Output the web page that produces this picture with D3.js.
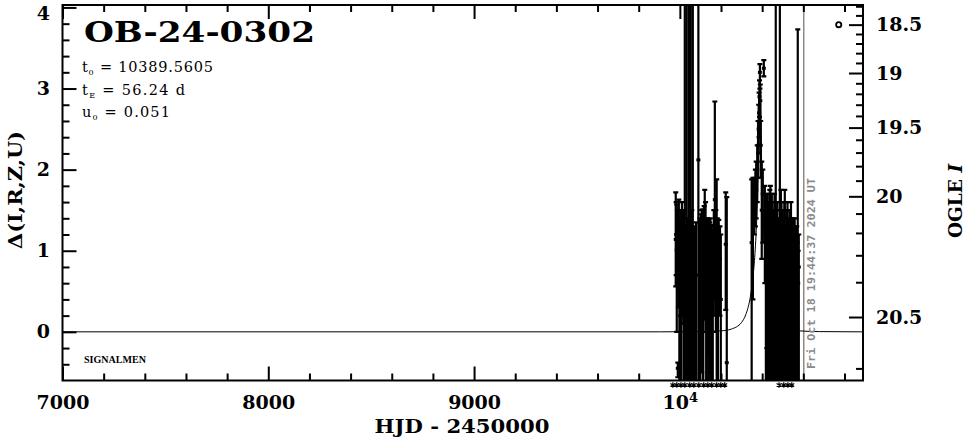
<!DOCTYPE html>
<html><head><meta charset="utf-8">
<script src="https://cdn.jsdelivr.net/npm/d3@7"></script>
<style>body{margin:0;background:#fff}svg{display:block}</style>
</head><body>
<svg id="c" width="966" height="438"></svg>
<script>
// ---------------- data ----------------
const eventName = "OB-24-0302";
const paramSym = ["t", "t", "u"];
const paramSub = ["0", "E", "0"];
const paramVal = ["10389.5605", "56.24 d", "0.051"];
const dateStamp = "Fri Oct 18 19:44:37 2024 UT";
const dateStampHJD = 10602;
const xMajorTicks = [7000, 8000, 9000, 10000];
const xMajorLabels = ["7000", "8000", "9000", "10^4"];
const yMajorTicks = [0, 1, 2, 3, 4];
const yMajorLabels = ["0", "1", "2", "3", "4"];
const magMajorTicks = [18.5, 19, 19.5, 20, 20.5];
const magMajorLabels = ["18.5", "19", "19.5", "20", "20.5"];
const magMinorTicks = [18.3, 18.4, 18.6, 18.7, 18.8, 18.9, 19.1, 19.2, 19.3, 19.4, 19.6, 19.7, 19.8, 19.9, 20.1, 20.2, 20.3, 20.4, 20.6];
const magBaseline = 20.534;   // baseline OGLE I
const magBlend = 20.741;      // blend flux, OGLE I

// observations: time, delta, lower end, upper end of error bar
const obsT = [9980, 9985, 9988, 9990, 9995, 10000, 10005, 10010, 10014, 10024, 10033, 10043, 10053, 10063, 10072, 10090, 10102, 10111, 10118, 10121, 10131, 10135, 10140, 10145, 10150, 10160, 10165, 10170, 10179, 10185, 10189, 10199, 10223, 10228,
  9982, 9993, 9998, 10003, 10008, 10017, 10020, 10028, 10038, 10048, 10058, 10068, 10078, 10098, 10106, 10114, 10125, 10128, 10138, 10148, 10155, 10175, 10182, 10195,
  10349, 10355, 10362, 10367, 10371, 10376, 10380, 10383, 10385, 10387, 10389, 10391, 10393, 10398, 10403, 10408, 10413, 10418, 10423, 10427, 10432, 10437, 10442, 10447, 10452, 10457, 10466, 10471, 10476, 10486, 10491, 10496, 10500, 10505, 10510, 10515, 10520, 10525, 10530, 10535, 10540, 10545, 10550, 10555, 10560, 10565, 10573, 10578,
  10420, 10430, 10435, 10440, 10445, 10450, 10455, 10460, 10463, 10468, 10474, 10479, 10482, 10489, 10494, 10498, 10503, 10508, 10513, 10518, 10523, 10528, 10533, 10538, 10543, 10548, 10553, 10558, 10563, 10568, 10570, 10575];
const obsDelta = [1.14, 1.01, 1.26, -0.45, 1.14, 0.95, 1.08, 1.20, 0.95, 1.01, 0.77, 1.26, 1.01, 1.14, 0.40, 2.12, 0.89, 0.77, 1.14, 1.01, 0.58, 1.01, 0.77, 0.89, 0.77, 1.01, 1.14, 1.63, 0.77, 0.89, 1.01, 0.40, 1.08, -0.38,
  1.2, 1.0, 0.9, 1.1, 0.8, 1.0, 0.9, 1.1, 0.9, 1.0, 0.8, 1.1, 0.7, 0.9, 1.0, 0.8, 1.1, 0.9, 0.8, 1.0, 0.9, 1.0, 0.8, 0.9,
  1.10, 1.40, 1.60, 1.70, 1.75, 2.00, 2.30, 2.50, 2.70, 2.90, 3.20, 2.85, 2.30, 1.50, 1.70, 3.25, 1.30, 1.10, 0.90, 1.00, 0.70, 1.20, 0.80, 1.00, 0.60, 1.10, 1.00, 0.80, 0.60, 1.20, 0.90, 0.70, 1.00, 0.50, 1.10, 0.70, 0.80, 1.00, 0.60, 0.90, 0.80, 0.50, 1.00, 0.70, 1.10, 0.60, 1.00, 0.80,
  0.8, 1.0, 0.9, 1.1, 0.7, 1.0, 0.8, 0.9, 0.7, 1.0, 0.8, 1.1, 0.7, 0.9, 1.0, 0.6, 0.9, 0.8, 1.0, 0.6, 0.9, 0.7, 1.0, 0.8, 0.7, 0.9, 0.6, 0.8, 0.9, 0.7, 0.8, 0.6];
const obsLow = [0.56, 0.00, 0.60, -0.56, 0.52, -1.5, 0.52, 0.40, 0.20, -2, -2, -2, -2, -2, -1.5, -1.5, -0.34, -1.5, 0.30, 0.15, -1.5, 0.00, -1.5, -0.5, -0.16, -1.5, 0.20, 0.40, -1.5, -1.5, 0.40, -1.5, 0.27, -1.5,
  0.7, 0.3, -1.5, 0.2, -1.5, 0.1, -1.5, -1.5, -1.5, -2, -1.5, -1.5, -1.5, -1.5, -0.5, -1.5, 0.0, -1.5, -0.3, -1.5, -1.5, 0.0, -1.5, 0.2,
  -1.5, 0.40, 1.20, 1.30, 1.40, 1.60, 1.90, 2.20, 2.40, 2.65, 3.00, 2.60, 1.90, 0.90, 1.10, 3.15, 0.60, -1.5, -0.2, -1.5, -1.5, 0.30, -1.5, -0.3, -1.5, 0.00, -2, -1.5, -1.5, -2, -1.5, -1.5, -0.5, -1.5, 0.20, -1.5, -1.5, 0.10, -1.5, -1.5, -0.4, -1.5, 0.20, -1.5, 0.40, -1.5, -2, -1.5,
  -1.5, -1.5, -0.5, -1.5, -1.5, 0.0, -1.5, -1.5, -0.2, -1.5, -1.5, 0.1, -1.5, -1.5, -0.4, -1.5, -1.5, -1.5, -0.2, -1.5, -1.5, -1.5, -0.3, -1.5, -1.5, -1.5, -1.5, -1.5, -0.1, -1.5, -1.5, -1.5];
const obsHigh = [1.72, 1.57, 1.50, -0.38, 1.63, 1.20, 1.32, 1.60, 1.45, 5, 5, 5, 5, 5, 1.29, 5, 1.45, 1.51, 1.55, 1.75, 1.36, 1.40, 1.38, 1.35, 1.32, 1.26, 1.50, 2.84, 1.88, 1.30, 1.38, 1.20, 1.72, 1.66,
  1.6, 1.4, 1.35, 1.5, 1.3, 1.4, 1.5, 1.3, 1.4, 5, 1.5, 1.3, 1.35, 1.4, 1.5, 1.45, 1.6, 1.4, 1.3, 1.4, 1.3, 1.5, 1.4, 1.3,
  1.88, 1.90, 1.90, 2.00, 2.10, 2.30, 2.60, 2.80, 2.95, 3.10, 3.30, 3.05, 2.60, 2.10, 2.00, 3.35, 1.80, 1.70, 1.50, 1.70, 1.40, 1.75, 1.40, 1.70, 1.30, 1.50, 5, 1.40, 1.30, 5, 1.75, 1.20, 1.50, 1.10, 1.75, 1.30, 1.50, 1.40, 1.20, 1.30, 1.60, 1.10, 1.40, 1.20, 1.30, 1.10, 3.73, 1.20,
  1.5, 1.6, 1.3, 1.8, 1.2, 1.6, 1.4, 1.7, 1.2, 1.5, 1.6, 1.4, 1.3, 1.5, 1.6, 1.2, 1.4, 1.6, 1.3, 1.2, 1.6, 1.3, 1.5, 1.2, 1.4, 1.3, 1.1, 1.4, 1.2, 1.3, 1.1, 1.0];
// epochs whose value falls below the plotted range
const offScaleT = [9966, 9985, 10005, 10024, 10048, 10068, 10092, 10116, 10136, 10155, 10179, 10199, 10218, 10482, 10505, 10525, 10544];
// model curve
const modelT = [7000, 9900, 10100, 10200, 10250, 10300, 10320, 10340, 10350, 10360, 10365, 10370, 10375, 10377.56, 10380, 10382.56, 10384, 10385.56, 10387, 10388.56, 10389.56, 10390.56, 10392.12, 10393.56, 10395.12, 10396.56, 10399.12, 10401.56, 10404.12, 10409.12, 10414.12, 10419.12, 10429.12, 10439.12, 10459.12, 10479.12, 10529.12, 10579.12, 10679.12, 10879.12, 10890];
const modelDelta = [0, 0, 0.003, 0.012, 0.034, 0.117, 0.210, 0.396, 0.557, 0.798, 0.967, 1.184, 1.474, 1.666, 1.890, 2.186, 2.389, 2.648, 2.916, 3.170, 3.233, 3.170, 2.916, 2.648, 2.389, 2.186, 1.890, 1.666, 1.474, 1.184, 0.967, 0.798, 0.557, 0.396, 0.210, 0.117, 0.034, 0.012, 0.003, 0, 0];
const markerT = 10772, markerMag = 18.5;

// ---------------- drawing ----------------
const svg = d3.select("#c");
const X0 = 62.5, X1 = 863, Y0 = 5, Y1 = 380.5;
const x = d3.scaleLinear().domain([7000, 10890]).range([X0, X1]);
const y = d3.scaleLinear().domain([-0.6, 4.03]).range([Y1, Y0]);
const FONT = "'DejaVu Serif', serif";

function fluxOf(m) { return Math.pow(10, -0.4 * m); }
function deltaOfMag(m) {
  return 2.5 * Math.log10((fluxOf(m) - fluxOf(magBlend)) / (fluxOf(magBaseline) - fluxOf(magBlend)));
}
function magScale(m) { return y(deltaOfMag(m)); }
magScale.copy = () => magScale;
magScale.range = () => y.range();

svg.append("defs").append("clipPath").attr("id", "plot")
  .append("rect").attr("x", X0).attr("y", Y0).attr("width", X1 - X0).attr("height", Y1 - Y0);

const plot = svg.append("g").attr("clip-path", "url(#plot)");

// date marker
plot.append("line").attr("x1", x(dateStampHJD)).attr("x2", x(dateStampHJD))
  .attr("y1", Y0).attr("y2", Y1).attr("stroke", "#8a8a8a").attr("stroke-width", 1.5);

// model
plot.append("path")
  .datum(modelT.map((t, i) => [t, modelDelta[i]]))
  .attr("fill", "none").attr("stroke", "#000").attr("stroke-width", 1)
  .attr("d", d3.line().x(d => x(d[0])).y(d => y(d[1])).curve(d3.curveMonotoneX));

// observations
const obs = obsT.map((t, i) => ({ t, d: obsDelta[i], lo: obsLow[i], hi: obsHigh[i] }));
const g = plot.append("g").attr("stroke", "#000").attr("stroke-width", 2.2);
g.selectAll("line.bar").data(obs).join("line").attr("class", "bar")
  .attr("x1", d => x(d.t)).attr("x2", d => x(d.t))
  .attr("y1", d => y(d.lo)).attr("y2", d => y(d.hi));
g.selectAll("line.capH").data(obs).join("line").attr("class", "capH")
  .attr("x1", d => x(d.t) - 2.5).attr("x2", d => x(d.t) + 2.5)
  .attr("y1", d => y(d.hi)).attr("y2", d => y(d.hi));
g.selectAll("line.capL").data(obs).join("line").attr("class", "capL")
  .attr("x1", d => x(d.t) - 2.5).attr("x2", d => x(d.t) + 2.5)
  .attr("y1", d => y(d.lo)).attr("y2", d => y(d.lo));
plot.selectAll("rect.pt").data(obs).join("rect").attr("class", "pt")
  .attr("x", d => x(d.t) - 2).attr("y", d => y(d.d) - 1.5)
  .attr("width", 4).attr("height", 3).attr("fill", "#000");

// marker circle
svg.append("circle").attr("cx", x(markerT)).attr("cy", magScale(markerMag)).attr("r", 2.6)
  .attr("fill", "none").attr("stroke", "#000").attr("stroke-width", 1.8);

// off-scale stars
svg.selectAll("path.star").data(offScaleT).join("path").attr("class", "star")
  .attr("transform", t => `translate(${x(t)},385)`)
  .attr("d", d3.symbol(d3.symbolAsterisk, 22))
  .attr("fill", "none").attr("stroke", "#000").attr("stroke-width", 1.2);

// frame
svg.append("rect").attr("x", X0).attr("y", Y0).attr("width", X1 - X0).attr("height", Y1 - Y0)
  .attr("fill", "none").attr("stroke", "#000").attr("stroke-width", 2);

function styleAxis(sel) {
  sel.select(".domain").remove();
  sel.selectAll(".tick line").attr("stroke", "#000").attr("stroke-width", 2);
  sel.selectAll("text").attr("font-family", FONT).attr("font-weight", "bold")
    .attr("font-size", 19).attr("fill", "#000");
}
const xMinor = d3.range(7200, 10890, 200).filter(v => v % 1000 !== 0);
const yMinor = d3.range(-0.4, 4.01, 0.2).map(v => +v.toFixed(1)).filter(v => Math.abs(v - Math.round(v)) > 0.01);

// bottom
const bottom = svg.append("g").attr("transform", `translate(0,${Y1})`)
  .call(d3.axisBottom(x).tickValues(xMajorTicks).tickSize(-14).tickPadding(15.5)
    .tickFormat((v, i) => xMajorLabels[i])).call(styleAxis);
bottom.selectAll(".tick text").each(function (v, i) {
  const lab = xMajorLabels[i];
  if (lab.includes("^")) {
    const [b, e] = lab.split("^");
    const t = d3.select(this).text("");
    t.append("tspan").text(b);
    t.append("tspan").attr("font-size", 13).attr("dy", -7).text(e);
  }
});
svg.append("g").attr("transform", `translate(0,${Y1})`)
  .call(d3.axisBottom(x).tickValues(xMinor).tickSize(-7).tickFormat("")).call(styleAxis);
// top
svg.append("g").attr("transform", `translate(0,${Y0})`)
  .call(d3.axisTop(x).tickValues(xMajorTicks).tickSize(-14).tickFormat("")).call(styleAxis);
svg.append("g").attr("transform", `translate(0,${Y0})`)
  .call(d3.axisTop(x).tickValues(xMinor).tickSize(-7).tickFormat("")).call(styleAxis);
// left
const left = svg.append("g").attr("transform", `translate(${X0},0)`)
  .call(d3.axisLeft(y).tickValues(yMajorTicks).tickSize(-14).tickPadding(12.5)
    .tickFormat((v, i) => yMajorLabels[i])).call(styleAxis);
// keep the topmost label inside the picture
left.selectAll(".tick text").filter(v => v === 4).attr("dy", "0.62em");
svg.append("g").attr("transform", `translate(${X0},0)`)
  .call(d3.axisLeft(y).tickValues(yMinor).tickSize(-7).tickFormat("")).call(styleAxis);
// right (OGLE I)
svg.append("g").attr("transform", `translate(${X1},0)`)
  .call(d3.axisRight(magScale).tickValues(magMajorTicks).tickSize(-14).tickPadding(13)
    .tickFormat((v, i) => magMajorLabels[i])).call(styleAxis);
svg.append("g").attr("transform", `translate(${X1},0)`)
  .call(d3.axisRight(magScale).tickValues(magMinorTicks).tickSize(-7).tickFormat("")).call(styleAxis);

// axis titles
svg.append("text").attr("x", 462).attr("y", 433).attr("text-anchor", "middle")
  .attr("font-family", FONT).attr("font-weight", "bold").attr("font-size", 18.5)
  .attr("textLength", 175).attr("lengthAdjust", "spacingAndGlyphs").text("HJD - 2450000");
svg.append("text").attr("transform", "translate(22,190) rotate(-90)").attr("text-anchor", "middle")
  .attr("font-family", FONT).attr("font-weight", "bold").attr("font-size", 19)
  .attr("textLength", 118).attr("lengthAdjust", "spacingAndGlyphs").text("Δ(I,R,Z,U)");
const rt = svg.append("text").attr("transform", "translate(962,201) rotate(-90)").attr("text-anchor", "middle")
  .attr("font-family", FONT).attr("font-weight", "bold").attr("font-size", 18.5);
rt.append("tspan").text("OGLE ");
rt.append("tspan").attr("font-style", "italic").text("I");

// title and parameters
svg.append("text").attr("x", 84).attr("y", 42).attr("font-family", FONT).attr("font-weight", "bold")
  .attr("font-size", 27.5).attr("textLength", 231).attr("lengthAdjust", "spacingAndGlyphs").text(eventName);
const pBase = [72, 95, 117];
const pLen = [131, 103, 88];
paramSym.forEach((s, i) => {
  const t = svg.append("text").attr("x", 82).attr("y", pBase[i]).attr("font-family", FONT)
    .attr("font-size", 14.5).attr("fill", "#000")
    .attr("textLength", pLen[i]).attr("lengthAdjust", "spacing");
  t.append("tspan").text(s);
  t.append("tspan").attr("font-size", 8).attr("dy", 3).text(paramSub[i]);
  t.append("tspan").attr("dy", -3).text(" = " + paramVal[i]);
});
svg.append("text").attr("x", 84).attr("y", 363).attr("font-family", "'Liberation Serif', serif")
  .attr("font-weight", "bold").attr("font-size", 10).attr("textLength", 62)
  .attr("lengthAdjust", "spacingAndGlyphs").text("SIGNALMEN");

// date stamp
svg.append("text").attr("transform", "translate(815,369) rotate(-90)")
  .attr("font-family", "'DejaVu Sans Mono', monospace").attr("font-weight", "bold").attr("font-size", 11)
  .attr("fill", "#8a8a8a").attr("textLength", 191).attr("lengthAdjust", "spacingAndGlyphs").text(dateStamp);
</script>
</body></html>
